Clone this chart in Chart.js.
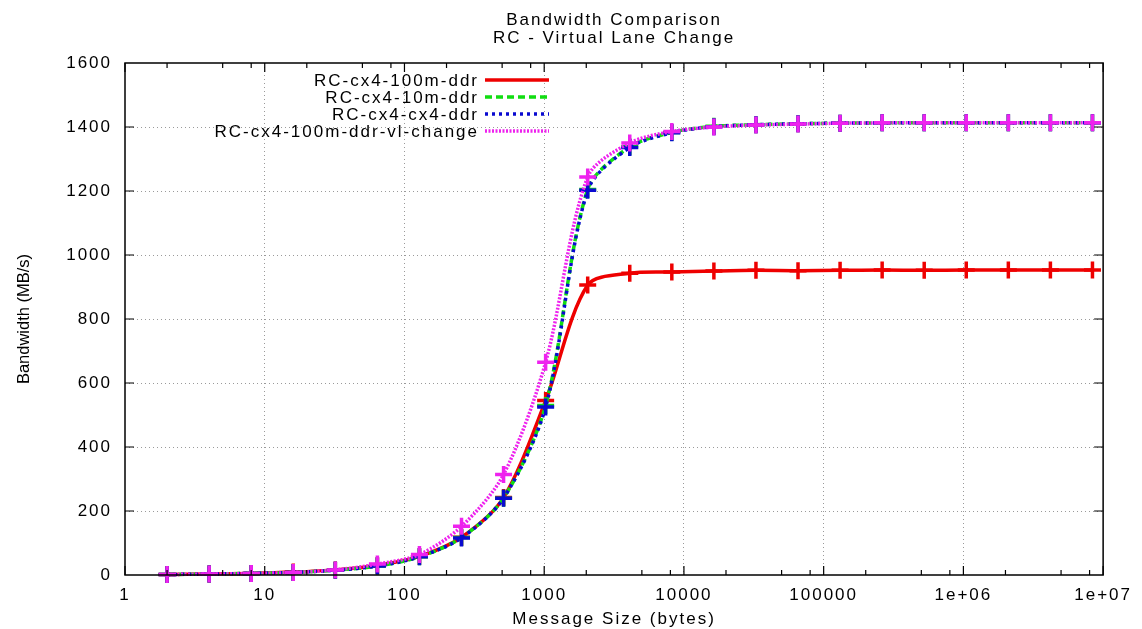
<!DOCTYPE html>
<html>
<head>
<meta charset="utf-8">
<title>Bandwidth Comparison</title>
<script src="https://cdn.jsdelivr.net/npm/chart.js@4.4.0/dist/chart.umd.min.js"></script>
<style>
  html, body { margin: 0; padding: 0; background: #fff; }
  #bw { display: block; }
</style>
</head>
<body>
<canvas id="bw" width="1142" height="629"></canvas>
<script>
// message sizes (bytes) = 2^1 .. 2^23
const messageSizes = [2, 4, 8, 16, 32, 64, 128, 256, 512, 1024, 2048, 4096, 8192, 16384,
  32768, 65536, 131072, 262144, 524288, 1048576, 2097152, 4194304, 8388608];

// bandwidth in MB/s
const rc100m     = [1.5, 3, 5, 9, 16, 30, 58, 118, 242, 545, 906, 943, 947, 950, 952, 951, 952, 953, 952, 953, 953, 953, 953];
const rc10m      = [1.5, 3, 5, 8, 15, 28, 57, 117, 240, 530, 1205, 1338, 1383, 1402, 1407, 1410, 1412, 1413, 1413, 1413, 1413, 1413, 1413];
const rcCx4      = [1.5, 3, 5, 8, 15, 28, 57, 116, 240, 525, 1202, 1336, 1382, 1401, 1407, 1410, 1412, 1413, 1413, 1413, 1413, 1413, 1413];
const rcVlChange = [1.5, 3, 4.5, 8, 16, 34, 64, 152, 314, 665, 1244, 1350, 1386, 1400, 1406, 1409, 1412, 1413, 1413, 1413, 1413, 1413, 1413];

const seriesLabels = ['RC-cx4-100m-ddr', 'RC-cx4-10m-ddr', 'RC-cx4-cx4-ddr', 'RC-cx4-100m-ddr-vl-change'];

const xTickValues = [1, 10, 100, 1000, 10000, 100000, 1000000, 10000000];
const xTickLabels = ['1', '10', '100', '1000', '10000', '100000', '1e+06', '1e+07'];
const xMinorSteps = [2, 5, 8];
const yTickLabels = ['0', '200', '400', '600', '800', '1000', '1200', '1400', '1600'];

const titleLines = ['Bandwidth Comparison', 'RC - Virtual Lane Change'];
const xAxisTitle = 'Message Size (bytes)';
const yAxisTitle = 'Bandwidth (MB/s)';

const FONT = "'Liberation Sans', Arial, sans-serif";

function toPoints(values) {
  return values.map(function(v, i) { return { x: messageSizes[i], y: v }; });
}

function makeSeries(label, values, color, dash, order) {
  return {
    label: label,
    data: toPoints(values),
    borderColor: color,
    backgroundColor: color,
    borderWidth: 3.5,
    borderDash: dash,
    tension: 0.3,
    fill: false,
    pointStyle: 'cross',
    pointRadius: 8.5,
    pointBorderWidth: 3.5,
    pointBorderColor: color,
    pointBackgroundColor: color,
    clip: { left: 2, top: 2, right: 2, bottom: 12 },
    order: order
  };
}

// gnuplot-like frame: box, inward ticks, titles and key
const gnuplotFrame = {
  id: 'gnuplotFrame',
  beforeUpdate(chart) { chart.ctx.letterSpacing = '2px'; },
  beforeDraw(chart) { chart.ctx.letterSpacing = '2px'; },
  afterDraw(chart) {
    const ctx = chart.ctx;
    const a = chart.chartArea;
    const xs = chart.scales.x;
    const ys = chart.scales.y;
    ctx.save();

    // border box
    ctx.strokeStyle = '#000';
    ctx.lineWidth = 1.5;
    ctx.setLineDash([]);
    ctx.strokeRect(a.left, a.top, a.right - a.left, a.bottom - a.top);

    // inward ticks
    ctx.lineWidth = 1.2;
    ctx.beginPath();
    for (let v = 200; v < 1600; v += 200) {
      const py = ys.getPixelForValue(v);
      ctx.moveTo(a.left, py); ctx.lineTo(a.left + 9, py);
      ctx.moveTo(a.right, py); ctx.lineTo(a.right - 9, py);
    }
    xTickValues.forEach(function(dec, i) {
      const px = xs.getPixelForValue(dec);
      ctx.moveTo(px, a.bottom); ctx.lineTo(px, a.bottom - 9);
      ctx.moveTo(px, a.top); ctx.lineTo(px, a.top + 9);
      if (i < xTickValues.length - 1) {
        xMinorSteps.forEach(function(m) {
          const mx = xs.getPixelForValue(dec * m);
          ctx.moveTo(mx, a.bottom); ctx.lineTo(mx, a.bottom - 5);
          ctx.moveTo(mx, a.top); ctx.lineTo(mx, a.top + 5);
        });
      }
    });
    ctx.stroke();

    // titles
    const cx = (a.left + a.right) / 2;
    ctx.fillStyle = '#000';
    ctx.letterSpacing = '2px';
    ctx.font = '17px ' + FONT;
    ctx.textAlign = 'center';
    ctx.textBaseline = 'alphabetic';
    ctx.fillText(titleLines[0], cx, 25);
    ctx.fillText(titleLines[1], cx, 43);
    ctx.fillText(xAxisTitle, cx, 624);

    // y axis title
    ctx.save();
    ctx.letterSpacing = '0px';
    ctx.font = '16.5px ' + FONT;
    ctx.translate(24, (a.top + a.bottom) / 2);
    ctx.rotate(-Math.PI / 2);
    ctx.textAlign = 'center';
    ctx.textBaseline = 'middle';
    ctx.fillText(yAxisTitle, 0, 0);
    ctx.restore();

    // key (text right aligned, sample to the right)
    ctx.font = '17px ' + FONT;
    ctx.textAlign = 'right';
    ctx.textBaseline = 'alphabetic';
    chart.data.datasets.forEach(function(ds, i) {
      const base = 86 + i * 17;
      ctx.fillStyle = '#000';
      ctx.fillText(ds.label, 479, base);
      ctx.strokeStyle = ds.borderColor;
      ctx.lineWidth = ds.borderWidth;
      ctx.setLineDash(ds.borderDash);
      ctx.beginPath();
      ctx.moveTo(485, base - 6);
      ctx.lineTo(549, base - 6);
      ctx.stroke();
    });
    ctx.setLineDash([]);
    ctx.restore();
  }
};

new Chart(document.getElementById('bw'), {
  type: 'line',
  data: {
    datasets: [
      makeSeries(seriesLabels[0], rc100m, '#ee0000', [], 4),
      makeSeries(seriesLabels[1], rc10m, '#11dd11', [7, 4], 3),
      makeSeries(seriesLabels[2], rcCx4, '#0a0ad0', [3, 4], 2),
      makeSeries(seriesLabels[3], rcVlChange, '#ee22ee', [2, 1.5], 1)
    ]
  },
  options: {
    responsive: false,
    animation: false,
    devicePixelRatio: 1,
    layout: { padding: { top: 63, right: 37, left: 0, bottom: 0 } },
    plugins: {
      legend: { display: false },
      title: { display: false },
      tooltip: { enabled: false }
    },
    scales: {
      x: {
        type: 'logarithmic',
        min: 1,
        max: 10000000,
        afterBuildTicks: function(scale) {
          scale.ticks = xTickValues.map(function(v) { return { value: v }; });
        },
        afterFit: function(scale) { scale.height = 54; },
        ticks: {
          autoSkip: false,
          maxRotation: 0,
          padding: 10,
          color: '#000',
          font: { family: FONT, size: 17 },
          callback: function(value, index) { return xTickLabels[index]; }
        },
        grid: {
          drawTicks: false,
          lineWidth: 1,
          color: function(c) {
            return (c.index === 0 || c.index === xTickValues.length - 1) ? 'rgba(0,0,0,0)' : '#9a9a9a';
          }
        },
        border: { display: false, dash: [1, 3] }
      },
      y: {
        min: 0,
        max: 1600,
        afterFit: function(scale) { scale.width = 125; },
        ticks: {
          stepSize: 200,
          padding: 13,
          color: '#000',
          font: { family: FONT, size: 17 },
          callback: function(value, index) { return yTickLabels[index]; }
        },
        grid: {
          drawTicks: false,
          lineWidth: 1,
          color: function(c) {
            return (c.tick && (c.tick.value === 0 || c.tick.value === 1600)) ? 'rgba(0,0,0,0)' : '#9a9a9a';
          }
        },
        border: { display: false, dash: [1, 3] }
      }
    }
  },
  plugins: [gnuplotFrame]
});
</script>
</body>
</html>
